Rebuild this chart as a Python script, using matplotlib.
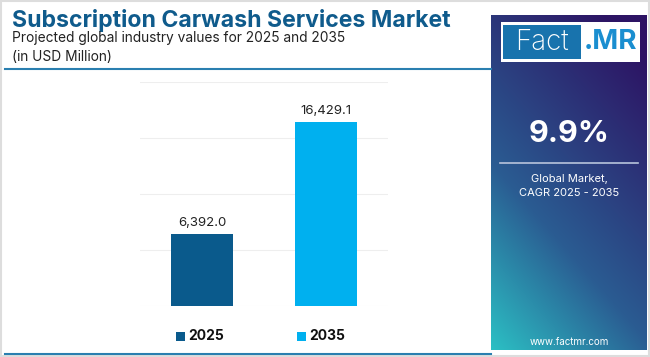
import numpy as np
import matplotlib
matplotlib.use('Agg')
import matplotlib.pyplot as plt
from matplotlib.patches import Rectangle

plt.rcParams['font.family'] = ['Inter', 'DejaVu Sans']

# data
years = ['2025', '2035']
values = [6392.0, 16429.1]
colors = ['#0a5a8c', '#00b0ef']
cagr = '9.9%'

W, H = 650, 357
fig = plt.figure(figsize=(6.5, 3.57), dpi=100)
fig.patch.set_facecolor('white')


def fx(x):
    return x / W


def fy(y):
    return 1 - y / H


# outer light border
fig.add_artist(Rectangle((fx(1), fy(356)), fx(648), 355 / H, transform=fig.transFigure,
                         fill=False, edgecolor='#dddddd', linewidth=1.5))

# title block
fig.text(fx(12), fy(20), 'Subscription Carwash Services Market', fontsize=16.6,
         fontweight='bold', color='#0f5b8c', va='center', ha='left')
fig.text(fx(12), fy(38), 'Projected global industry values for 2025 and 2035',
         fontsize=9.9, color='#222222', va='center', ha='left')
fig.text(fx(12), fy(57), '(in USD Million)', fontsize=9.9, color='#222222',
         va='center', ha='left')

# separator lines
fig.add_artist(plt.Line2D([fx(5), fx(491)], [fy(69), fy(69)], transform=fig.transFigure,
                          color='#2a7fb0', linewidth=1.5))
fig.add_artist(plt.Line2D([fx(5), fx(491)], [fy(354), fy(354)], transform=fig.transFigure,
                          color='#2a7fb0', linewidth=1.5))

# bar chart
ax = fig.add_axes([fx(140), fy(306), fx(388) - fx(140), fy(82) - fy(306)])
x = np.arange(len(years))
ax.bar(x, values, width=0.5, color=colors, zorder=3)
for xi, v in zip(x, values):
    ax.text(xi, v + 450, f'{v:,.1f}', ha='center', va='bottom', fontsize=9.5, color='#222222')
ax.set_xlim(-0.5, 1.5)
ax.set_ylim(0, 20000)
ax.set_yticks([0, 5000, 10000, 15000, 20000])
ax.grid(axis='y', color='#eeeeee', linewidth=0.8, zorder=0)
ax.tick_params(left=False, bottom=False, labelleft=False, labelbottom=False)
for s in ax.spines.values():
    s.set_visible(False)

# legend
for xs, yr, c in zip([176, 297], years, colors):
    fig.add_artist(Rectangle((fx(xs), fy(341)), 9 / W, 9 / H, transform=fig.transFigure,
                             facecolor=c, edgecolor='none'))
    fig.text(fx(xs + 12), fy(336), yr, fontsize=10, fontweight='bold', color='#111111',
             va='center', ha='left')

# right panel with gradient
pax = fig.add_axes([fx(491), fy(350), fx(647) - fx(491), fy(15) - fy(350)])
gx, gy = np.meshgrid(np.linspace(0, 1, 200), np.linspace(0, 1, 400))
t = np.clip(0.72 * gy + 0.38 * gx, 0, 1)  # 0 at bottom-left, 1 at top-right
c0 = np.array([0x2c, 0xc0, 0xc4]) / 255
c1 = np.array([0x2a, 0x5c, 0x92]) / 255
c2 = np.array([0x2d, 0x14, 0x64]) / 255
tt = t[..., None]
img = np.where(tt < 0.4, c0 + (c1 - c0) * (tt / 0.4), c1 + (c2 - c1) * ((tt - 0.4) / 0.6))
pax.imshow(img, origin='lower', extent=[0, 1, 0, 1], aspect='auto')
pax.set_xlim(0, 1)
pax.set_ylim(0, 1)
pax.axis('off')

# logo
fig.add_artist(Rectangle((fx(501), fy(62)), 139 / W, 40 / H, transform=fig.transFigure,
                         facecolor='white', edgecolor='none'))
fig.add_artist(Rectangle((fx(503), fy(59)), 78 / W, 34 / H, transform=fig.transFigure,
                         facecolor='#1873ad', edgecolor='none'))
fig.text(fx(542), fy(42), 'Fact', fontsize=20, fontweight='light', color='white',
         ha='center', va='center')
fig.text(fx(611), fy(42), '.MR', fontsize=20, fontweight='bold', color='#1a8ed0',
         ha='center', va='center')

fig.text(fx(569), fy(134), cagr, fontsize=22, fontweight='bold', color='white',
         ha='center', va='center')
fig.add_artist(plt.Line2D([fx(500), fx(638)], [fy(163), fy(163)], transform=fig.transFigure,
                          color='#b8c4dc', linewidth=1.2))
fig.text(fx(569), fy(179), 'Global Market,', fontsize=8, color='white', ha='center', va='center')
fig.text(fx(569), fy(193), 'CAGR 2025 - 2035', fontsize=8, color='white', ha='center', va='center')
fig.text(fx(569), fy(342), 'www.factmr.com', fontsize=7, color='white', ha='center', va='center')

fig.savefig('out.png', dpi=100, facecolor='white')
